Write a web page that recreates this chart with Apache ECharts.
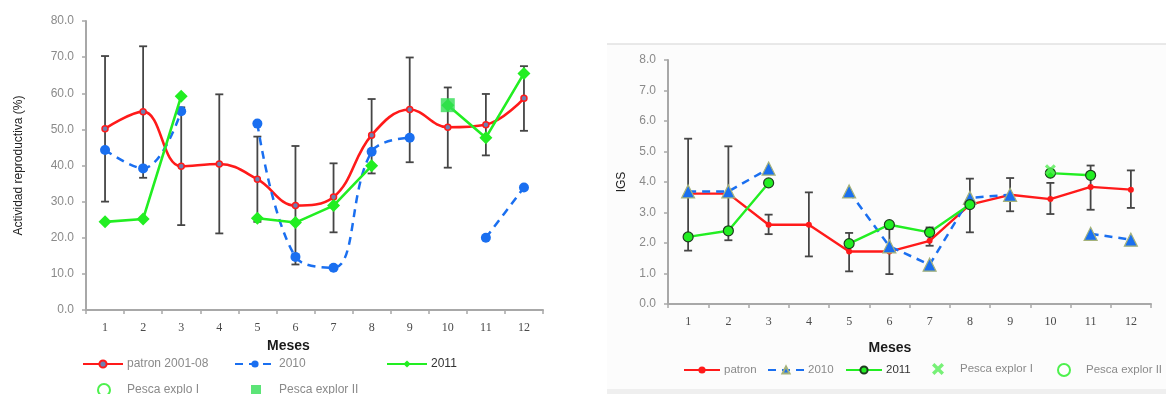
<!DOCTYPE html>
<html>
<head>
<meta charset="utf-8">
<title>Actividad reproductiva e IGS por mes</title>
<script src="https://cdn.jsdelivr.net/npm/echarts@6/dist/echarts.min.js"></script>
<style>
  html, body { margin: 0; padding: 0; background: #ffffff; }
  #chart { width: 1166px; height: 394px; }
</style>
</head>
<body>
<div id="chart"></div>
<script>
// Month categories shared by both panels
const months = ['1', '2', '3', '4', '5', '6', '7', '8', '9', '10', '11', '12'];

// Left panel: reproductive activity (%)
const actYTicks = { min: 0, max: 80, interval: 10 };
const actPatron = [50.2, 54.9, 39.8, 40.4, 36.2, 28.9, 31.3, 48.4, 55.5, 50.6, 51.3, 58.6];
const actPatronLow = [30.0, 36.6, 23.5, 21.2, 24.4, 12.6, 21.5, 37.8, 40.9, 39.4, 42.8, 49.6];
const actPatronHigh = [70.3, 73.0, 56.1, 59.7, 48.0, 45.4, 40.6, 58.4, 69.9, 61.6, 59.8, 67.5];
const act2010 = [44.3, 39.2, 55.0, null, 51.6, 14.7, 11.7, 43.8, 47.7, null, 20.0, 33.9];
const act2011 = [24.4, 25.2, 59.2, null, 25.4, 24.2, 28.9, 39.9, null, 56.7, 47.7, 65.5];
const actPescaI = [];
const actPescaII = [null, null, null, null, null, null, null, null, null, 56.7, null, null];

// Right panel: gonadosomatic index (IGS)
const igsYTicks = { min: 0, max: 8, interval: 1 };
const igsPatron = [3.62, 3.62, 2.60, 2.60, 1.72, 1.72, 2.07, 3.26, 3.58, 3.44, 3.84, 3.75];
const igsPatronLow = [1.75, 2.09, 2.29, 1.56, 1.07, 0.98, 1.91, 2.35, 3.04, 2.95, 3.09, 3.15];
const igsPatronHigh = [5.42, 5.17, 2.93, 3.66, 2.33, 2.46, 2.51, 4.11, 4.13, 3.97, 4.54, 4.38];
const igs2010 = [3.69, 3.69, 4.44, null, 3.69, 1.89, 1.29, 3.48, 3.58, null, 2.30, 2.11];
const igs2011 = [2.20, 2.40, 3.97, null, 1.98, 2.60, 2.35, 3.26, null, 4.29, 4.22, null];
const igsPescaI = [null, null, null, null, null, null, null, null, null, 4.40, null, null];
const igsPescaII = [];

const RED = '#ff1a1a';
const BLUE = '#1a6ff0';
const GREEN = '#22ee22';
const AXIS_GRAY = '#a8a8a8';
const LABEL_GRAY = '#8a8a8a';
const CROSS = 'path://M0,2 L2,0 L5,3 L8,0 L10,2 L7,5 L10,8 L8,10 L5,7 L2,10 L0,8 L3,5 Z';

// Right-panel series carry a suffix so both legends stay independent
const SUFFIX = ' \u200b';
const stripSuffix = (name) => name.replace(SUFFIX, '');

function errorBars(low, high, gridIdx) {
  return {
    type: 'custom',
    xAxisIndex: gridIdx,
    yAxisIndex: gridIdx,
    z: 1,
    silent: true,
    data: months.map((m, i) => [i, low[i], high[i]]),
    encode: { x: 0, y: [1, 2] },
    renderItem: function (params, api) {
      const top = api.coord([api.value(0), api.value(2)]);
      const bot = api.coord([api.value(0), api.value(1)]);
      const hw = 4;
      const style = { stroke: '#454545', lineWidth: 1.8 };
      return {
        type: 'group',
        children: [
          { type: 'line', shape: { x1: top[0], y1: top[1], x2: bot[0], y2: bot[1] }, style: style },
          { type: 'line', shape: { x1: top[0] - hw, y1: top[1], x2: top[0] + hw, y2: top[1] }, style: style },
          { type: 'line', shape: { x1: bot[0] - hw, y1: bot[1], x2: bot[0] + hw, y2: bot[1] }, style: style }
        ]
      };
    }
  };
}

function xAxisFor(gridIdx, nameGap, shift) {
  return {
    type: 'category',
    gridIndex: gridIdx,
    data: months,
    boundaryGap: true,
    name: 'Meses',
    nameLocation: 'middle',
    nameGap: nameGap,
    nameTextStyle: {
      color: '#1a1a1a', fontSize: 14, fontWeight: 'bold',
      fontFamily: 'Liberation Sans, Arial, sans-serif',
      padding: [0, shift, 0, 0]
    },
    axisLine: { show: true, onZero: false, lineStyle: { color: AXIS_GRAY, width: 2 } },
    axisTick: { show: true, length: 4, lineStyle: { color: AXIS_GRAY, width: 1.5 } },
    axisLabel: {
      color: '#4a4a4a', fontSize: 12, margin: 12,
      fontFamily: 'Liberation Serif, Times New Roman, serif'
    },
    splitLine: { show: false }
  };
}

function yAxisFor(gridIdx, ticks, name, nameGap, fmtDigits) {
  return {
    type: 'value',
    gridIndex: gridIdx,
    min: ticks.min,
    max: ticks.max,
    interval: ticks.interval,
    name: name,
    nameLocation: 'middle',
    nameGap: nameGap,
    nameTextStyle: { color: '#222222', fontSize: 12, fontFamily: 'Liberation Sans, Arial, sans-serif' },
    axisLine: { show: true, lineStyle: { color: AXIS_GRAY, width: 2 } },
    axisTick: { show: true, length: 4, lineStyle: { color: AXIS_GRAY, width: 1.5 } },
    axisLabel: {
      color: LABEL_GRAY, fontSize: 12, margin: 12,
      fontFamily: 'Liberation Sans, Arial, sans-serif',
      formatter: (v) => v.toFixed(fmtDigits)
    },
    splitLine: { show: false }
  };
}

// One legend per entry so every item sits at its own spot
function legendItem(name, left, top, width, height, fontSize, textGap, color) {
  return {
    data: [name],
    left: left,
    top: top,
    orient: 'horizontal',
    itemWidth: width,
    itemHeight: height,
    itemGap: 0,
    selectedMode: false,
    padding: 0,
    formatter: stripSuffix,
    textStyle: {
      color: color || LABEL_GRAY, fontSize: fontSize,
      fontFamily: 'Liberation Sans, Arial, sans-serif', padding: [0, 0, 0, textGap]
    }
  };
}

const chart = echarts.init(document.getElementById('chart'), null, { renderer: 'canvas' });

const option = {
  backgroundColor: '#ffffff',
  animation: false,
  graphic: [
    { type: 'rect', z: -10, silent: true, shape: { x: 607, y: 44, width: 559, height: 345 },
      style: { fill: '#fcfcfc' } },
    { type: 'line', z: -9, silent: true, shape: { x1: 607, y1: 44, x2: 1166, y2: 44 },
      style: { stroke: '#e2e2e2', lineWidth: 1.5 } },
    { type: 'rect', z: -9, silent: true, shape: { x: 607, y: 389, width: 559, height: 5 },
      style: { fill: '#efefef' } }
  ],
  grid: [
    { left: 86, top: 21, width: 457, height: 289, containLabel: false },
    { left: 668, top: 60, width: 483, height: 244, containLabel: false }
  ],
  xAxis: [xAxisFor(0, 26, 52), xAxisFor(1, 37, 39)],
  yAxis: [
    yAxisFor(0, actYTicks, 'Actividad reproductiva (%)', 61, 1),
    yAxisFor(1, igsYTicks, 'IGS', 40, 1)
  ],
  legend: [
    legendItem('patron 2001-08', 82, 358, 40, 9, 12, -1),
    legendItem('2010', 234, 358, 40, 9, 12, -1),
    legendItem('2011', 386, 358, 40, 9, 12, -1, '#333333'),
    legendItem('Pesca explo I', 97, 383, 12, 12, 12, 12),
    legendItem('Pesca explor II', 251, 384, 10, 10, 12, 13),
    legendItem('patron' + SUFFIX, 683, 364, 36, 9, 11.5, -1),
    legendItem('2010' + SUFFIX, 767, 364, 36, 9, 11.5, -1),
    legendItem('2011' + SUFFIX, 845, 364, 36, 9, 11.5, -1, '#333333'),
    legendItem('Pesca explor I' + SUFFIX, 932, 363, 12, 12, 11.5, 11),
    legendItem('Pesca explor II' + SUFFIX, 1057, 363, 12, 12, 11.5, 11)
  ],
  series: [
    // Left panel
    errorBars(actPatronLow, actPatronHigh, 0),
    {
      name: 'patron 2001-08', type: 'line', xAxisIndex: 0, yAxisIndex: 0, z: 3,
      data: actPatron, smooth: 0.4,
      lineStyle: { color: RED, width: 2.6 },
      symbol: 'circle', symbolSize: 6,
      itemStyle: { color: '#6f7fb0', borderColor: RED, borderWidth: 1.5 }
    },
    {
      name: '2010', type: 'line', xAxisIndex: 0, yAxisIndex: 0, z: 4,
      data: act2010, smooth: 0.4, connectNulls: false,
      lineStyle: { color: BLUE, width: 2.5, type: [8, 6] },
      symbol: 'circle', symbolSize: 10,
      itemStyle: { color: BLUE }
    },
    {
      name: '2011', type: 'line', xAxisIndex: 0, yAxisIndex: 0, z: 5,
      data: act2011, connectNulls: false,
      lineStyle: { color: GREEN, width: 2.6 },
      symbol: 'diamond', symbolSize: 13,
      itemStyle: { color: GREEN }
    },
    {
      name: 'Pesca explo I', type: 'scatter', xAxisIndex: 0, yAxisIndex: 0, z: 6,
      data: actPescaI, symbol: 'emptyCircle', symbolSize: 10,
      itemStyle: { color: GREEN, borderWidth: 2 }
    },
    {
      name: 'Pesca explor II', type: 'scatter', xAxisIndex: 0, yAxisIndex: 0, z: 6,
      data: actPescaII, symbol: 'rect', symbolSize: 14,
      itemStyle: { color: '#33dd55' }
    },
    // Right panel
    errorBars(igsPatronLow, igsPatronHigh, 1),
    {
      name: 'patron' + SUFFIX, type: 'line', xAxisIndex: 1, yAxisIndex: 1, z: 3,
      data: igsPatron,
      lineStyle: { color: RED, width: 2.4 },
      symbol: 'circle', symbolSize: 6,
      itemStyle: { color: RED }
    },
    {
      name: '2010' + SUFFIX, type: 'line', xAxisIndex: 1, yAxisIndex: 1, z: 4,
      data: igs2010, connectNulls: false,
      lineStyle: { color: BLUE, width: 2.5, type: [8, 6] },
      symbol: 'triangle', symbolSize: 13,
      itemStyle: { color: BLUE, borderColor: '#a5b27a', borderWidth: 1.2 }
    },
    {
      name: '2011' + SUFFIX, type: 'line', xAxisIndex: 1, yAxisIndex: 1, z: 5,
      data: igs2011, connectNulls: false,
      lineStyle: { color: GREEN, width: 2.4 },
      symbol: 'circle', symbolSize: 10,
      itemStyle: { color: GREEN, borderColor: '#1f3a1f', borderWidth: 1.2 }
    },
    {
      name: 'Pesca explor I' + SUFFIX, type: 'scatter', xAxisIndex: 1, yAxisIndex: 1, z: 6,
      data: igsPescaI, symbol: CROSS, symbolSize: 11,
      itemStyle: { color: '#55ee55' }
    },
    {
      name: 'Pesca explor II' + SUFFIX, type: 'scatter', xAxisIndex: 1, yAxisIndex: 1, z: 6,
      data: igsPescaII, symbol: 'emptyCircle', symbolSize: 10,
      itemStyle: { color: GREEN, borderWidth: 2 }
    }
  ]
};

chart.setOption(option);
</script>
</body>
</html>
